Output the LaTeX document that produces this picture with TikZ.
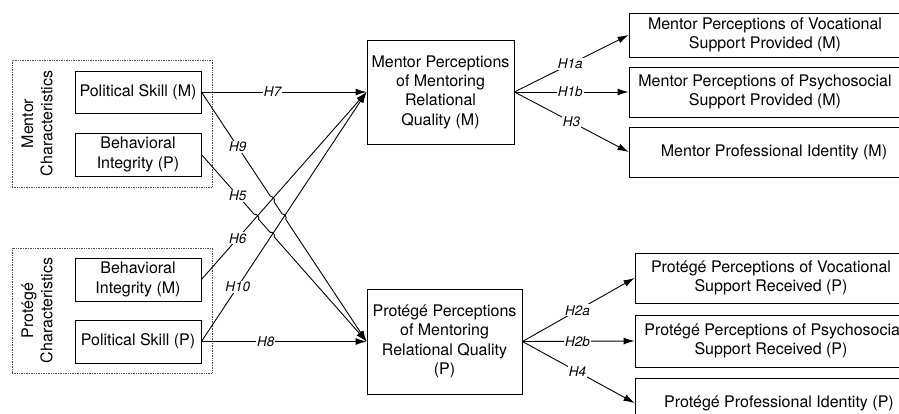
\documentclass[tikz,border=0pt]{standalone}
\usepackage{fontspec}
\setmainfont{TeX Gyre Heros}
\usetikzlibrary{arrows.meta}
\usetikzlibrary{calc}
\usetikzlibrary{intersections}

\tikzset{
    box/.style={draw,line width=0.9pt,inner sep=0pt,align=center,
        font=\fontsize{16}{19.3}\selectfont},
    grp/.style={draw,densely dotted,line width=0.7pt,black!70},
    grplabel/.style={rotate=90,align=center,font=\fontsize{16}{19.3}\selectfont},
    conn/.style={line width=0.9pt,-{Latex[length=11pt,width=7pt]}},
    hyp/.style={fill=white,inner sep=1pt,font=\fontsize{13.5}{15}\selectfont\itshape},
}

% small jump where a line crosses another one
\newcommand{\linehop}[3]{%
    \draw[white,line width=3pt] ($(#1)!3pt!(#2)$) -- ($(#1)!3pt!(#3)$);
    \draw[line width=0.9pt] ($(#1)!3pt!(#2)$) to[bend left=80] ($(#1)!3pt!(#3)$);}

\begin{document}
\begin{tikzpicture}[x=1pt,y=-1pt]
    \useasboundingbox (0,0) rectangle (899,413);

    % groups on the left
    \node[grp,minimum width=200pt,minimum height=127pt] (mgrp) at (112,123.5) {};
    \node[grp,minimum width=200pt,minimum height=125pt] (pgrp) at (112,310.5) {};
    \node[grplabel] (mlab) at (37,123.5) {Mentor\\Characteristics};
    \node[grplabel] (plab) at (37,310.5) {Protégé\\Characteristics};

    \node[box,minimum width=126pt,minimum height=42pt] (psm) at (138,92) {Political Skill (M)};
    \node[box,minimum width=126pt,minimum height=43pt] (bip) at (138,154.5) {Behavioral\\Integrity (P)};
    \node[box,minimum width=126pt,minimum height=43pt] (bim) at (138,279.5) {Behavioral\\Integrity (M)};
    \node[box,minimum width=126pt,minimum height=43pt] (psp) at (138,341.5) {Political Skill (P)};

    % relational quality
    \node[box,minimum width=147pt,minimum height=104pt] (mpm) at (440.5,92)
        {Mentor Perceptions\\of Mentoring\\Relational\\Quality (M)};
    \node[box,minimum width=155pt,minimum height=105pt] (ppm) at (444.5,341.5)
        {Protégé Perceptions\\of Mentoring\\Relational Quality\\(P)};

    % outcomes
    \node[box,minimum width=272pt,minimum height=44pt] (mvoc) at (765,35)
        {Mentor Perceptions of Vocational\\Support Provided (M)};
    \node[box,minimum width=272pt,minimum height=50pt] (mpsy) at (765,92)
        {Mentor Perceptions of Psychosocial\\Support Provided (M)};
    \node[box,minimum width=272pt,minimum height=50pt] (mid) at (765,152)
        {\hspace*{18pt}Mentor Professional Identity (M)};
    \node[box,minimum width=272pt,minimum height=50pt] (pvoc) at (771,278)
        {Protégé Perceptions of Vocational\\Support Received (P)};
    \node[box,minimum width=272pt,minimum height=52pt] (ppsy) at (771,341)
        {\hspace*{6pt}Protégé Perceptions of Psychosocial\\Support Received (P)};
    \node[box,minimum width=272pt,minimum height=50pt] (pid) at (771,403)
        {\hspace*{16pt}Protégé Professional Identity (P)};

    % paths from the left
    \path[name path=up6] (bim.east) -- (mpm.west);
    \path[name path=up10] (psp.east) -- (mpm.west);
    \draw[conn,name path=dn9] (psm.east) -- node[hyp,pos=0.22] {H9} (ppm.west);
    \draw[conn,name path=dn5] (bip.east) -- node[hyp,pos=0.22] {H5} (ppm.west);
    \path[name intersections={of=dn9 and up6,by=c96}];
    \path[name intersections={of=dn9 and up10,by=c910}];
    \path[name intersections={of=dn5 and up6,by=c56}];
    \path[name intersections={of=dn5 and up10,by=c510}];
    \linehop{c96}{psm.east}{ppm.west}
    \linehop{c910}{psm.east}{ppm.west}
    \linehop{c56}{bip.east}{ppm.west}
    \linehop{c510}{bip.east}{ppm.west}
    \draw[conn] (bim.east) -- node[hyp,pos=0.22] {H6} (mpm.west);
    \draw[conn] (psp.east) -- node[hyp,pos=0.22] {H10} (mpm.west);
    \draw[conn] (psm.east) -- node[hyp,pos=0.43] {H7} (mpm.west);
    \draw[conn] (psp.east) -- node[hyp,pos=0.39] {H8} (ppm.west);

    % paths to the right
    \draw[conn] (mpm.east) -- node[hyp,pos=0.49] {H1a} (mvoc.west);
    \draw[conn] (mpm.east) -- node[hyp,pos=0.49] {H1b} (mpsy.west);
    \draw[conn] (mpm.east) -- node[hyp,pos=0.5] {H3} (mid.west);
    \draw[conn] (ppm.east) -- node[hyp,pos=0.49] {H2a} (pvoc.west);
    \draw[conn] (ppm.east) -- node[hyp,pos=0.49] {H2b} (ppsy.west);
    \draw[conn] (ppm.east) -- node[hyp,pos=0.49] {H4} (pid.west);
\end{tikzpicture}
\end{document}
